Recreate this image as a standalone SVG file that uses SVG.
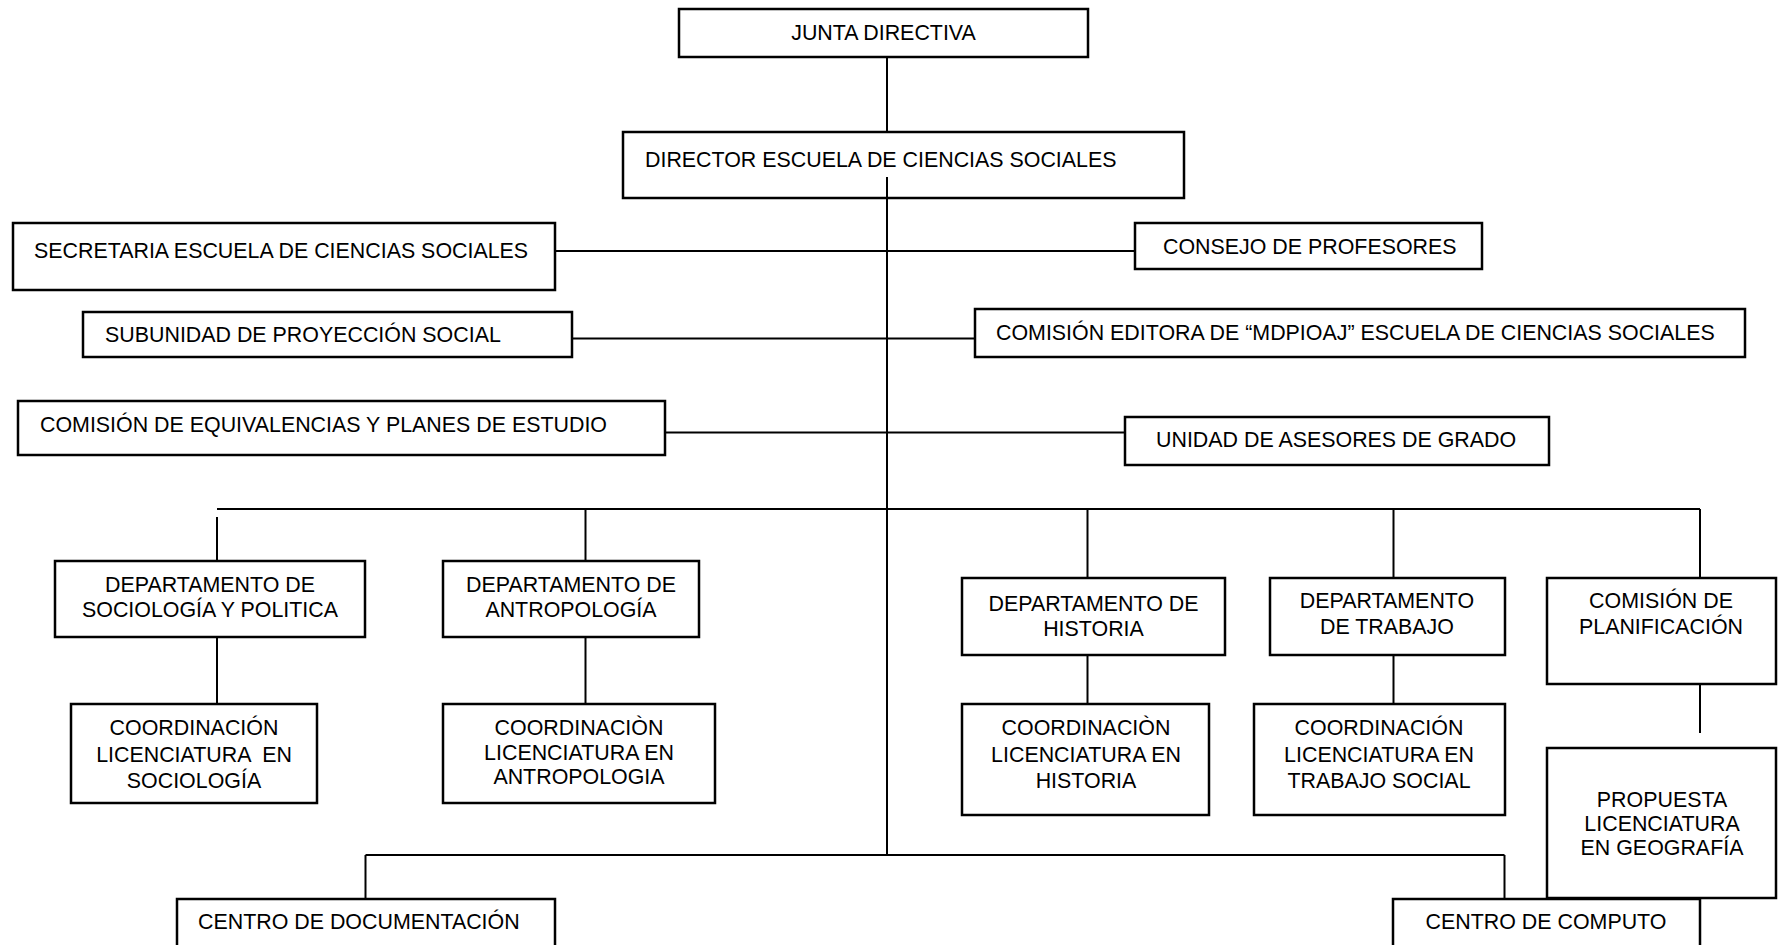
<svg xmlns="http://www.w3.org/2000/svg" width="1779" height="945" viewBox="0 0 1779 945">
<style>
rect{fill:#fff;stroke:#000;stroke-width:2.5}
text{font-family:"Liberation Sans",Arial,sans-serif;font-size:21.4px;fill:#000}
.c{text-anchor:middle}
#connectors line{stroke:#000;stroke-width:2}
</style>
<rect x="0" y="0" width="1779" height="945" style="stroke:none"/>
<g id="connectors">
<line x1="887" y1="57" x2="887" y2="132"/>
<line x1="887" y1="177" x2="887" y2="855"/>
<line x1="555" y1="251" x2="1135" y2="251"/>
<line x1="572" y1="338.5" x2="975" y2="338.5"/>
<line x1="665" y1="432.5" x2="1125" y2="432.5"/>
<line x1="217" y1="509" x2="1700" y2="509"/>
<line x1="217" y1="517" x2="217" y2="561"/>
<line x1="585.5" y1="509" x2="585.5" y2="561"/>
<line x1="1087.5" y1="509" x2="1087.5" y2="578"/>
<line x1="1393.5" y1="509" x2="1393.5" y2="578"/>
<line x1="1700" y1="509" x2="1700" y2="578"/>
<line x1="217" y1="637" x2="217" y2="704"/>
<line x1="585.5" y1="637" x2="585.5" y2="704"/>
<line x1="1087.5" y1="655" x2="1087.5" y2="704"/>
<line x1="1393.5" y1="655" x2="1393.5" y2="704"/>
<line x1="1700" y1="684" x2="1700" y2="733"/>
<line x1="365.5" y1="855" x2="1504.5" y2="855"/>
<line x1="365.5" y1="855" x2="365.5" y2="899"/>
<line x1="1504.5" y1="855" x2="1504.5" y2="899"/>
</g>
<g id="junta"><rect x="679" y="9" width="409" height="48"/><text class="c" x="883.5" y="40">JUNTA DIRECTIVA</text></g>
<g id="director"><rect x="623" y="132" width="561" height="66"/><text x="645" y="167">DIRECTOR ESCUELA DE CIENCIAS SOCIALES</text><line x1="887" y1="177" x2="887" y2="198" style="stroke:#000;stroke-width:2"/></g>
<g id="secretaria"><rect x="13" y="223" width="542" height="67"/><text x="34" y="258">SECRETARIA ESCUELA DE CIENCIAS SOCIALES</text></g>
<g id="consejo"><rect x="1135" y="223" width="347" height="46"/><text x="1163" y="254">CONSEJO DE PROFESORES</text></g>
<g id="subunidad"><rect x="83" y="312" width="489" height="45"/><text x="105" y="342">SUBUNIDAD DE PROYECCIÓN SOCIAL</text></g>
<g id="editora"><rect x="975" y="309" width="770" height="48"/><text x="996" y="340">COMISIÓN EDITORA DE “MDPIOAJ” ESCUELA DE CIENCIAS SOCIALES</text></g>
<g id="equivalencias"><rect x="18" y="401" width="647" height="54"/><text x="40" y="432">COMISIÓN DE EQUIVALENCIAS Y PLANES DE ESTUDIO</text></g>
<g id="unidad"><rect x="1125" y="417" width="424" height="48"/><text x="1156" y="447">UNIDAD DE ASESORES DE GRADO</text></g>
<g id="dept-sociologia"><rect x="55" y="561" width="310" height="76"/><text class="c" x="210" y="592">DEPARTAMENTO DE</text><text class="c" x="210" y="617">SOCIOLOGÍA Y POLITICA</text></g>
<g id="dept-antropologia"><rect x="443" y="561" width="256" height="76"/><text class="c" x="571" y="592">DEPARTAMENTO DE</text><text class="c" x="571" y="617">ANTROPOLOGÍA</text></g>
<g id="dept-historia"><rect x="962" y="578" width="263" height="77"/><text class="c" x="1093.5" y="611">DEPARTAMENTO DE</text><text class="c" x="1093.5" y="636">HISTORIA</text></g>
<g id="dept-trabajo"><rect x="1270" y="578" width="235" height="77"/><text class="c" x="1387" y="608">DEPARTAMENTO</text><text class="c" x="1387" y="634">DE TRABAJO</text></g>
<g id="planificacion"><rect x="1547" y="578" width="229" height="106"/><text class="c" x="1661" y="608">COMISIÓN DE</text><text class="c" x="1661" y="634">PLANIFICACIÓN</text></g>
<g id="coord-sociologia"><rect x="71" y="704" width="246" height="99"/><text class="c" x="194" y="735">COORDINACIÓN</text><text class="c" x="194" y="761.5" xml:space="preserve">LICENCIATURA  EN</text><text class="c" x="194" y="788">SOCIOLOGÍA</text></g>
<g id="coord-antropologia"><rect x="443" y="704" width="272" height="99"/><text class="c" x="579" y="735">COORDINACIÒN</text><text class="c" x="579" y="760">LICENCIATURA EN</text><text class="c" x="579" y="784">ANTROPOLOGIA</text></g>
<g id="coord-historia"><rect x="962" y="704" width="247" height="111"/><text class="c" x="1086" y="735">COORDINACIÒN</text><text class="c" x="1086" y="761.5">LICENCIATURA EN</text><text class="c" x="1086" y="788">HISTORIA</text></g>
<g id="coord-trabajo"><rect x="1254" y="704" width="251" height="111"/><text class="c" x="1379" y="735">COORDINACIÓN</text><text class="c" x="1379" y="761.5">LICENCIATURA EN</text><text class="c" x="1379" y="788">TRABAJO SOCIAL</text></g>
<g id="propuesta"><rect x="1547" y="748" width="229" height="150"/><text class="c" x="1662" y="807">PROPUESTA</text><text class="c" x="1662" y="831">LICENCIATURA</text><text class="c" x="1662" y="855">EN GEOGRAFÍA</text></g>
<g id="centro-documentacion"><rect x="177" y="899" width="378" height="60"/><text x="198" y="929">CENTRO DE DOCUMENTACIÓN</text></g>
<g id="centro-computo"><rect x="1393" y="899" width="307" height="60"/><text class="c" x="1546" y="929">CENTRO DE COMPUTO</text></g>
</svg>
